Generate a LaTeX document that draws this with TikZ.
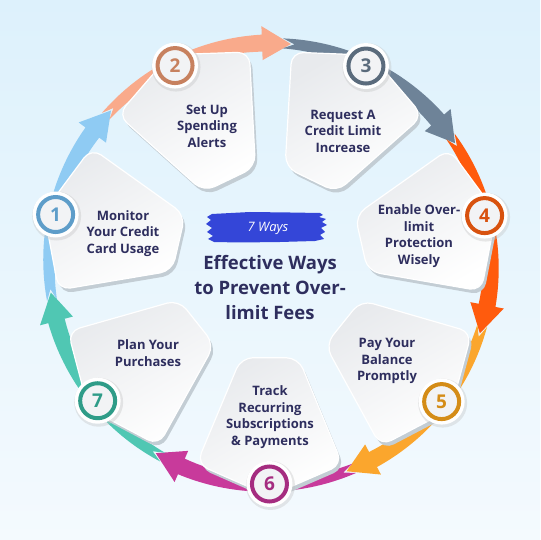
\documentclass[tikz,border=0pt]{standalone}
\usepackage{fontspec}
\setmainfont{Open Sans}
\definecolor{bgtop}{HTML}{DDF1FC}
\definecolor{bgbot}{HTML}{F4FAFE}
\definecolor{navy}{HTML}{2E2E5E}
\definecolor{a1}{HTML}{8FCBF3}
\definecolor{a2}{HTML}{F9AA8B}
\definecolor{a3}{HTML}{6E8398}
\definecolor{a4}{HTML}{FF5B0D}
\definecolor{a5}{HTML}{FBA62D}
\definecolor{a6}{HTML}{C83A9B}
\definecolor{a7}{HTML}{50C7B3}
\definecolor{b1}{HTML}{5E9DC9}
\definecolor{b2}{HTML}{C7815F}
\definecolor{b3}{HTML}{5A6B7C}
\definecolor{b4}{HTML}{D8520F}
\definecolor{b5}{HTML}{D48C17}
\definecolor{b6}{HTML}{A52C80}
\definecolor{b7}{HTML}{2F9C88}
\definecolor{cardtop}{HTML}{E8EAED}
\definecolor{cardshadow}{HTML}{C3CDD4}
\definecolor{badgein}{HTML}{F2F3F5}
\definecolor{brush}{HTML}{3446D8}
\tikzset{
  cardtext/.style={align=center,text=navy,font=\bfseries\fontsize{13}{16.5}\selectfont},
  titletext/.style={align=center,text=navy,font=\bfseries\fontsize{18.5}{25}\selectfont},
  numtext/.style={font=\bfseries\fontsize{19}{19}\selectfont},
  bannertext/.style={text=white,font=\itshape\fontsize{13}{13}\selectfont},
  cardshape/.style={rounded corners=12pt}
}
\begin{document}
\begin{tikzpicture}[x=1pt,y=1pt]
\useasboundingbox (-270,-270) rectangle (270,270);
\shade[top color=bgtop,bottom color=bgbot] (-270,-270) rectangle (270,270);
\begin{scope}[shift={(0,6)}]
  % ring arrows
  \foreach \k/\col in {1/a1,2/a2,3/a3,4/a4,5/a5,6/a6,7/a7}{
    \pgfmathsetmacro\ta{136-(\k-1)*51.4286}
    \pgfmathsetmacro\tb{\ta+7.5}
    \pgfmathsetmacro\ts{\ta+53.5}
    \pgfmathsetmacro\tn{\ts-3}
    \fill[\col] plot[domain=\ts:\tb,samples=40] (\x:{226+3.5*(\ts-\x)/(\ts-\tb)})
      -- (\tb:238) -- (\ta:221) -- (\tb:204)
      -- plot[domain=\tb:\ts,samples=40] (\x:{216-3.5*(\ts-\x)/(\ts-\tb)})
      -- (\tn:221) -- cycle;
  }
  % cards
  \foreach \k in {1,...,7}{
    \pgfmathsetmacro\c{167-(\k-1)*51.4286}
    \pgfmathsetmacro\ca{\c+17}
    \pgfmathsetmacro\cb{\c+20}
    \pgfmathsetmacro\cc{\c-20}
    \pgfmathsetmacro\cd{\c-17}
    \fill[cardshadow,cardshape,shift={(2.5,-4)}] (\ca:98) -- (\cb:213) -- (\c:232) -- (\cc:213) -- (\cd:98) -- cycle;
    \draw[white,line width=1.2pt,cardshape,top color=cardtop,bottom color=white,shading angle=30] (\ca:98) -- (\cb:213) -- (\c:232) -- (\cc:213) -- (\cd:98) -- cycle;
  }
  % badges
  \foreach \k/\col in {1/b1,2/b2,3/b3,4/b4,5/b5,6/b6,7/b7}{
    \pgfmathsetmacro\c{167-(\k-1)*51.4286}
    \fill[black!25,opacity=.35] (\c:220) ++(1,-1.5) circle (24.5);
    \fill[white] (\c:220) circle (23);
    \draw[\col,line width=4pt,fill=badgein] (\c:220) circle (17.5);
    \node[numtext,text=\col] (n\k) at (\c:220) {\k};
  }
\end{scope}
% card texts
\node[cardtext] (t1) at (-147,36.5) {Monitor\\Your Credit\\Card Usage};
\node[cardtext] (t2) at (-63,144) {Set Up\\Spending\\Alerts};
\node[cardtext] (t3) at (73,139) {Request A\\Credit Limit\\Increase};
\node[cardtext] (t4) at (149,34) {Enable Over-\\limit\\Protection\\Wisely};
\node[cardtext] (t5) at (117,-91) {Pay Your\\Balance\\Promptly};
\node[cardtext] (t6) at (0,-147) {Track\\Recurring\\Subscriptions\\\& Payments};
\node[cardtext] (t7) at (-122,-83) {Plan Your\\Purchases};
% banner
\fill[brush] (-58,56) -- (-20,58) -- (20,57.5) -- (50,57) -- (53,55) -- (49,53) -- (56,51) -- (52,48) -- (57,45) -- (51,42) -- (55,38) -- (50,35) -- (54,31) -- (45,29) -- (10,28) -- (-30,27.5) -- (-56,28) -- (-62,31) -- (-57,34) -- (-63,38) -- (-58,42) -- (-64,46) -- (-59,50) -- (-63,53) -- cycle;
\node[bannertext] (ways) at (-2,42) {7 Ways};
\node[titletext] (title) at (0,-17.5) {Effective Ways\\to Prevent Over-\\limit Fees};
\end{tikzpicture}
\end{document}
